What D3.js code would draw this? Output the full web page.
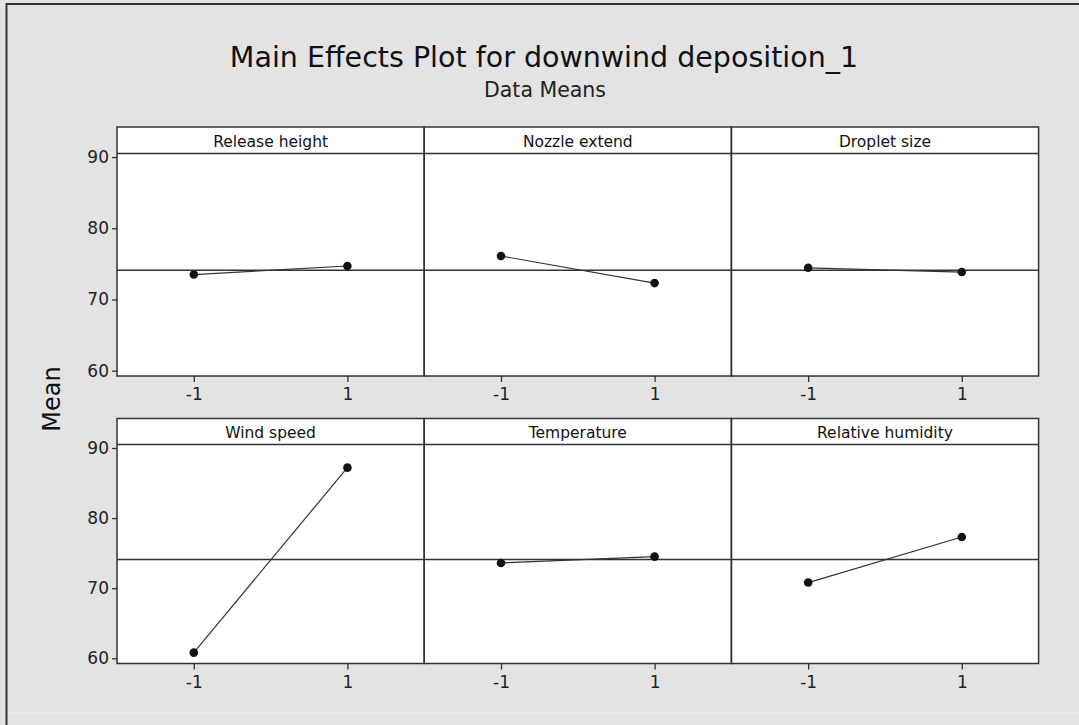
<!DOCTYPE html>
<html><head><meta charset="utf-8">
<script src="https://cdn.jsdelivr.net/npm/d3@7"></script>
<style>html,body{margin:0;padding:0;background:#e3e3e3;}svg{display:block;}</style>
</head><body>
<svg id="chart" width="1079" height="725"></svg>
<script>
// ---- data ----
const factors = ["Release height", "Nozzle extend", "Droplet size", "Wind speed", "Temperature", "Relative humidity"];
const levels = [-1, 1];
const meansLow = [73.5, 76.1, 74.45, 60.8, 73.6, 70.8];
const meansHigh = [74.7, 72.3, 73.85, 87.2, 74.5, 77.3];
const grandMean = 74.1;
const yTicks = [60, 70, 80, 90];
const xTickLabels = ["-1", "1"];
const titleText = "Main Effects Plot for downwind deposition_1";
const subtitleText = "Data Means";
const yLabel = "Mean";

// ---- layout ----
const svg = d3.select("#chart");
const W = 1079, H = 725;
const font = "'DejaVu Sans', Verdana, sans-serif";
svg.append("rect").attr("width", W).attr("height", H).attr("fill", "#e3e3e3");
// outer frame lines
svg.append("line").attr("x1", 6).attr("x2", W).attr("y1", 4).attr("y2", 4).attr("stroke", "#333").attr("stroke-width", 2);
svg.append("line").attr("x1", 6.5).attr("x2", 6.5).attr("y1", 3).attr("y2", H).attr("stroke", "#333").attr("stroke-width", 2);
svg.append("line").attr("x1", 8).attr("x2", W).attr("y1", 713).attr("y2", 713).attr("stroke", "#ededed").attr("stroke-width", 1);

svg.append("text").attr("x", 544).attr("y", 67).attr("text-anchor", "middle")
  .attr("font-family", font).attr("font-size", 28.5).attr("fill", "#111").text(titleText);
svg.append("text").attr("x", 545).attr("y", 97).attr("text-anchor", "middle")
  .attr("font-family", font).attr("font-size", 20.5).attr("fill", "#222").text(subtitleText);
svg.append("text").attr("transform", "translate(60,399) rotate(-90)").attr("text-anchor", "middle")
  .attr("font-family", font).attr("font-size", 24).attr("fill", "#111").text(yLabel);

const colX0 = 117, colW = 307.2;
const rows = [
  {top: 127, stripBottom: 153.5, bottom: 376},
  {top: 418.5, stripBottom: 444.5, bottom: 663.5}
];
const yDomain = [59.25, 90.5];

rows.forEach((r, ri) => {
  const y = d3.scaleLinear().domain(yDomain).range([r.bottom, r.stripBottom]);
  const g = svg.append("g");
  for (let c = 0; c < 3; c++) {
    g.append("rect").attr("x", colX0 + c * colW).attr("y", r.top).attr("width", colW).attr("height", r.bottom - r.top)
      .attr("fill", "#fff");
  }
  // y axis
  const yAx = g.append("g").attr("transform", `translate(${colX0},0)`)
    .call(d3.axisLeft(y).tickValues(yTicks).tickSize(5).tickPadding(3).tickSizeOuter(0));
  yAx.select(".domain").remove();
  yAx.selectAll("line").attr("stroke", "#333").attr("stroke-width", 1.3);
  yAx.selectAll("text").attr("font-family", font).attr("font-size", 17).attr("fill", "#222");

  // reference line (grand mean)
  g.append("line").attr("x1", colX0).attr("x2", colX0 + 3 * colW)
    .attr("y1", y(grandMean)).attr("y2", y(grandMean)).attr("stroke", "#333").attr("stroke-width", 1.4);

  for (let c = 0; c < 3; c++) {
    const i = ri * 3 + c;
    const px = colX0 + c * colW;
    const x = d3.scaleLinear().domain([-2, 2]).range([px, px + colW]);
    const xAx = g.append("g").attr("transform", `translate(0,${r.bottom})`)
      .call(d3.axisBottom(x).tickValues(levels).tickFormat((d, k) => xTickLabels[k]).tickSize(6).tickPadding(6).tickSizeOuter(0));
    xAx.select(".domain").remove();
    xAx.selectAll("line").attr("stroke", "#333").attr("stroke-width", 1.3);
    xAx.selectAll("text").attr("font-family", font).attr("font-size", 17).attr("fill", "#222");

    const pts = levels.map((lv, k) => ({x: lv, y: k === 0 ? meansLow[i] : meansHigh[i]}));
    g.append("path").datum(pts)
      .attr("d", d3.line().x(d => x(d.x)).y(d => y(d.y)))
      .attr("fill", "none").attr("stroke", "#333").attr("stroke-width", 1.2);
    g.selectAll(null).data(pts).enter().append("circle")
      .attr("cx", d => x(d.x)).attr("cy", d => y(d.y)).attr("r", 4.3).attr("fill", "#111");

    // strip
    g.append("line").attr("x1", px).attr("x2", px + colW).attr("y1", r.stripBottom).attr("y2", r.stripBottom)
      .attr("stroke", "#333").attr("stroke-width", 1.5);
    g.append("text").attr("x", px + colW / 2).attr("y", r.top + 19.5).attr("text-anchor", "middle")
      .attr("font-family", font).attr("font-size", 15.5).attr("fill", "#111").text(factors[i]);
    // panel border
    g.append("rect").attr("x", px).attr("y", r.top).attr("width", colW).attr("height", r.bottom - r.top)
      .attr("fill", "none").attr("stroke", "#333").attr("stroke-width", 1.5);
  }
});
</script>
</body></html>
